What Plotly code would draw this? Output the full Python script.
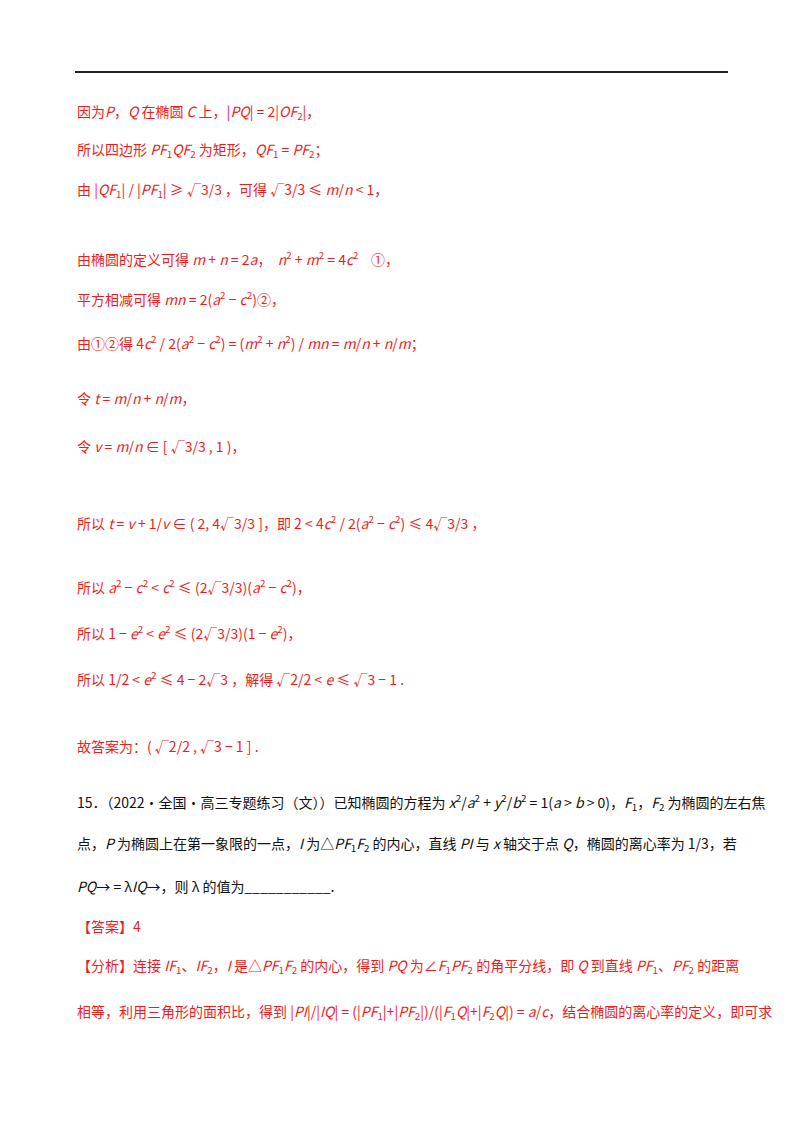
import plotly.graph_objects as go

RED = "#ee1c1c"
BLACK = "#111111"

line_y = [112, 150, 190, 258, 298, 342, 398, 446, 522, 586, 632, 678, 746,
          802, 844, 886, 926, 966, 1012]
line_colors = [RED] * 13 + [BLACK] * 3 + [RED] * 3
line_texts = [
    "因为<i>P</i>，<i>Q</i> 在椭圆 <i>C</i> 上，|<i>PQ</i>| = 2|<i>OF</i><sub>2</sub>|，",
    "所以四边形 <i>PF</i><sub>1</sub><i>QF</i><sub>2</sub> 为矩形，<i>QF</i><sub>1</sub> = <i>PF</i><sub>2</sub>；",
    "由 |<i>QF</i><sub>1</sub>| / |<i>PF</i><sub>1</sub>| ≥ √3/3 ，可得 √3/3 ≤ <i>m</i>/<i>n</i> &lt; 1，",
    "由椭圆的定义可得 <i>m</i> + <i>n</i> = 2<i>a</i>，  <i>n</i><sup>2</sup> + <i>m</i><sup>2</sup> = 4<i>c</i><sup>2</sup>    ①，",
    "平方相减可得 <i>mn</i> = 2(<i>a</i><sup>2</sup> − <i>c</i><sup>2</sup>)②，",
    "由①②得 4<i>c</i><sup>2</sup> / 2(<i>a</i><sup>2</sup> − <i>c</i><sup>2</sup>) = (<i>m</i><sup>2</sup> + <i>n</i><sup>2</sup>) / <i>mn</i> = <i>m</i>/<i>n</i> + <i>n</i>/<i>m</i>；",
    "令 <i>t</i> = <i>m</i>/<i>n</i> + <i>n</i>/<i>m</i>，",
    "令 <i>v</i> = <i>m</i>/<i>n</i> ∈ [ √3/3 , 1 )，",
    "所以 <i>t</i> = <i>v</i> + 1/<i>v</i> ∈ ( 2, 4√3/3 ]，即 2 &lt; 4<i>c</i><sup>2</sup> / 2(<i>a</i><sup>2</sup> − <i>c</i><sup>2</sup>) ≤ 4√3/3 ，",
    "所以 <i>a</i><sup>2</sup> − <i>c</i><sup>2</sup> &lt; <i>c</i><sup>2</sup> ≤ (2√3/3)(<i>a</i><sup>2</sup> − <i>c</i><sup>2</sup>)，",
    "所以 1 − <i>e</i><sup>2</sup> &lt; <i>e</i><sup>2</sup> ≤ (2√3/3)(1 − <i>e</i><sup>2</sup>)，",
    "所以 1/2 &lt; <i>e</i><sup>2</sup> ≤ 4 − 2√3 ，解得 √2/2 &lt; <i>e</i> ≤ √3 − 1 .",
    "故答案为：( √2/2 , √3 − 1 ] .",
    "15．（2022·全国·高三专题练习（文））已知椭圆的方程为 <i>x</i><sup>2</sup>/<i>a</i><sup>2</sup> + <i>y</i><sup>2</sup>/<i>b</i><sup>2</sup> = 1(<i>a</i> &gt; <i>b</i> &gt; 0)，<i>F</i><sub>1</sub>，<i>F</i><sub>2</sub> 为椭圆的左右焦",
    "点，<i>P</i> 为椭圆上在第一象限的一点，<i>I</i> 为△<i>PF</i><sub>1</sub><i>F</i><sub>2</sub> 的内心，直线 <i>PI</i> 与 <i>x</i> 轴交于点 <i>Q</i>，椭圆的离心率为 1/3，若",
    "<i>PQ</i>→ = λ<i>IQ</i>→，则 λ 的值为___________.",
    "【答案】4",
    "【分析】连接 <i>IF</i><sub>1</sub>、<i>IF</i><sub>2</sub>，<i>I</i> 是△<i>PF</i><sub>1</sub><i>F</i><sub>2</sub> 的内心，得到 <i>PQ</i> 为∠<i>F</i><sub>1</sub><i>PF</i><sub>2</sub> 的角平分线，即 <i>Q</i> 到直线 <i>PF</i><sub>1</sub>、<i>PF</i><sub>2</sub> 的距离",
    "相等，利用三角形的面积比，得到 |<i>PI</i>|/|<i>IQ</i>| = (|<i>PF</i><sub>1</sub>|+|<i>PF</i><sub>2</sub>|)/(|<i>F</i><sub>1</sub><i>Q</i>|+|<i>F</i><sub>2</sub><i>Q</i>|) = <i>a</i>/<i>c</i>，结合椭圆的离心率的定义，即可求",
]

fig = go.Figure()
fig.add_trace(go.Scatter(x=[75, 728], y=[72, 72], mode="lines",
                         line=dict(color="#222", width=2), hoverinfo="skip"))

for y, c, t in zip(line_y, line_colors, line_texts):
    fig.add_annotation(x=75, y=y, text=t, showarrow=False, xanchor="left",
                       yanchor="middle", font=dict(color=c, size=14))

# page body adds an 8px margin, so offset the ranges
fig.update_layout(
    width=800, height=1132, margin=dict(l=0, r=0, t=0, b=0),
    paper_bgcolor="white", plot_bgcolor="white", showlegend=False,
    font=dict(family="Noto Sans CJK SC, Noto Sans, sans-serif"),
    xaxis=dict(range=[8, 808], visible=False),
    yaxis=dict(range=[1140, 8], visible=False),
)
fig.write_html("out.html")
